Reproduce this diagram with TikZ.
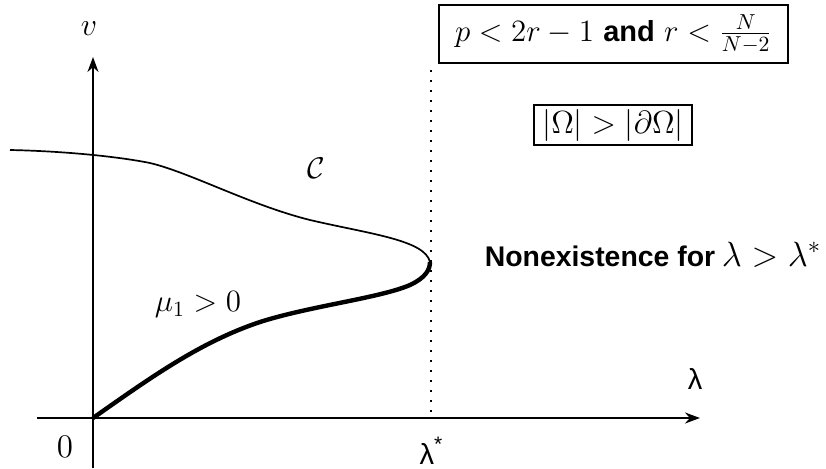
\RequirePackage{fix-cm}
\documentclass[tikz,border=0pt]{standalone}
\usepackage{fontspec}
\setsansfont{Liberation Sans}
\usetikzlibrary{arrows.meta}
\newcommand{\sz}[1]{\fontsize{#1}{#1}\selectfont}
\begin{document}
\begin{tikzpicture}[x=0.5pt,y=-0.5pt,
  axis/.style={line width=0.85pt,-{Stealth[length=7.5pt,width=5.5pt]}},
  thinc/.style={line width=0.85pt},
  thickc/.style={line width=2.2pt},
  dotline/.style={line width=1pt,dash pattern=on 0.9pt off 4.1pt},
  box/.style={draw,line width=0.7pt,inner sep=0pt},
  lbl/.style={inner sep=0pt}]
\useasboundingbox (0,0) rectangle (826,468);
% axes
\coordinate (xstart) at (37,418);
\coordinate (xend) at (700,418);
\coordinate (ystart) at (93,468);
\coordinate (yend) at (93,57);
\coordinate (O) at (93,418);
\draw[axis] (xstart) -- (xend);
\draw[axis] (ystart) -- (yend);
% dotted line at lambda*
\coordinate (dtop) at (431,70);
\coordinate (dbot) at (431,417);
\draw[dotline] (dtop) -- (dbot);
% curves
\coordinate (T) at (430,262);
\coordinate (L) at (10,150);
\draw[thinc] (L) .. controls (60,151) and (115,156) .. (150,163)
  .. controls (190,172.5) and (250,205) .. (310,220)
  .. controls (370,234) and (425,240) .. (T);
\draw[thickc] (O) .. controls (150,378) and (200,342) .. (260,322)
  .. controls (310,306) and (380,298) .. (410,285)
  .. controls (425,278) and (430,270) .. (T);
% labels
\node[lbl] (v) at (89,29) {\sz{16}$v$};
\node[lbl] (zero) at (65,447) {\sz{16.5}$0$};
\node[lbl] (lam) at (695,379) {\sz{14.5}\sffamily λ};
\node[lbl] (lamstar) at (431,451) {\sz{14.5}\sffamily λ\raisebox{0.45em}{\sz{10.5}*}};
\node[lbl] (C) at (316,168) {\sz{15}$\mathcal{C}$};
\node[lbl] (mu) at (198,305) {\sz{15.5}$\mu_1>0$};
\node[lbl] (nonex) at (653,255) {{\sz{14.2}\sffamily\bfseries Nonexistence for} {\sz{17.5}$\lambda>\lambda^*$}};
\node[box,minimum width=174.5pt,minimum height=29pt] (box1) at (613.5,34)
  {\sz{15.5}$p<2r-1$ {\sz{14.5}\sffamily\bfseries and} $r<{\sz{17.5}\frac{N}{N-2}}$};
\node[box,minimum width=79pt,minimum height=20pt] (box2) at (613,125)
  {\sz{16}$|\Omega|>|\partial\Omega|$};
\end{tikzpicture}
\end{document}
